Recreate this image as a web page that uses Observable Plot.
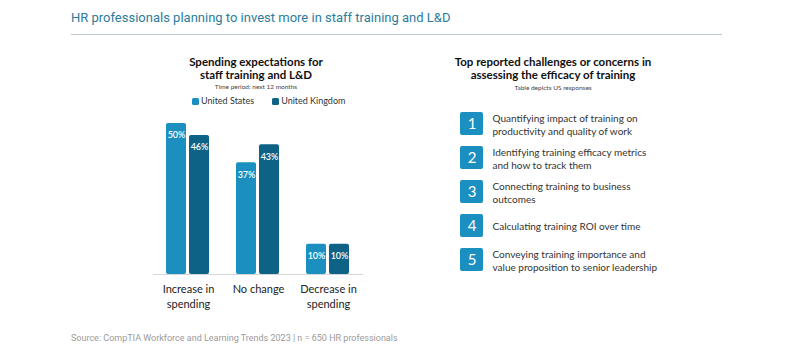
<!DOCTYPE html>
<html>
<head>
<meta charset="utf-8">
<script src="https://cdn.jsdelivr.net/npm/d3@7"></script>
<script src="https://cdn.jsdelivr.net/npm/@observablehq/plot@0.6"></script>
<style>
  html, body { margin: 0; padding: 0; background: #fff; }
  #page { position: relative; width: 800px; height: 357px; overflow: hidden; background: #fff; font-family: Lato, "Open Sans", sans-serif; }
  .abs { position: absolute; }
  #title { left: 71px; top: 10px; font-family: Roboto, sans-serif; font-size: 13px; color: #2b7d9b; white-space: nowrap; }
  #rule { left: 71px; top: 34px; width: 651px; height: 0; border-top: 1.3px solid #b9c8d2; }
  #source { left: 71px; top: 333px; font-family: Roboto, sans-serif; font-size: 9px; color: #9a9a9a; white-space: nowrap; }
  .ptitle { text-align: center; font-weight: bold; font-size: 11.5px; line-height: 13px; color: #111; }
  .psub { text-align: center; font-size: 6.5px; color: #444; }
  #ltitle { left: 156px; top: 55px; width: 200px; }
  #lsub { left: 156px; top: 83px; width: 200px; }
  #legend { left: 192px; top: 95px; font-size: 9px; color: #333; white-space: nowrap; display: flex; gap: 18px; }
  #legend span.sw { display: inline-block; width: 7px; height: 7px; border-radius: 1.5px; margin-right: 2px; vertical-align: -1px; }
  #rtitle { left: 433px; top: 55px; width: 240px; }
  #rsub { left: 433px; top: 84px; width: 240px; }
  #left { left: 140px; top: 110px; }
  #right { left: 455px; top: 100px; }
</style>
</head>
<body>
<div id="page">
  <div id="title" class="abs">HR professionals planning to invest more in staff training and L&amp;D</div>
  <div id="rule" class="abs"></div>
  <div id="ltitle" class="abs ptitle">Spending expectations for<br>staff training and L&amp;D</div>
  <div id="lsub" class="abs psub">Time period: next 12 months</div>
  <div id="legend" class="abs"></div>
  <div id="rtitle" class="abs ptitle">Top reported challenges or concerns in<br>assessing the efficacy of training</div>
  <div id="rsub" class="abs psub">Table depicts US responses</div>
  <div id="left" class="abs"></div>
  <div id="right" class="abs"></div>
  <div id="source" class="abs">Source: CompTIA Workforce and Learning Trends 2023 | n = 650 HR professionals</div>
</div>
<script>
// ---- data ----
const categories = ["Increase in spending", "No change", "Decrease in spending"];
const categoryLabels = ["Increase in\nspending", "No change", "Decrease in\nspending"];
const seriesNames = ["United States", "United Kingdom"];
const usValues = [50, 37, 10];
const ukValues = [46, 43, 10];
const seriesColors = ["#1a8fc0", "#0d6286"];

const challengeRanks = [1, 2, 3, 4, 5];
const challengeLabels = [
  "Quantifying impact of training on\nproductivity and quality of work",
  "Identifying training efficacy metrics\nand how to track them",
  "Connecting training to business\noutcomes",
  "Calculating training ROI over time",
  "Conveying training importance and\nvalue proposition to senior leadership"
];

// ---- legend ----
const legend = document.getElementById("legend");
seriesNames.forEach((s, i) => {
  const d = document.createElement("div");
  d.innerHTML = `<span class="sw" style="background:${seriesColors[i]}"></span>${s}`;
  legend.appendChild(d);
});

// ---- left chart ----
const rows = [];
categories.forEach((c, i) => {
  rows.push({category: c, series: seriesNames[0], value: usValues[i]});
  rows.push({category: c, series: seriesNames[1], value: ukValues[i]});
});
const labelMap = new Map(categories.map((c, i) => [c, categoryLabels[i]]));

const left = Plot.plot({
  width: 240,
  height: 205,
  marginLeft: 13,
  marginRight: 17,
  marginTop: 13,
  marginBottom: 41,
  style: {fontFamily: "Lato, 'Open Sans', sans-serif", background: "transparent", overflow: "visible"},
  fx: {domain: categories, padding: 0, label: null, axis: null},
  x: {domain: seriesNames, paddingInner: 0.128, paddingOuter: 0.553, axis: null},
  y: {domain: [0, 50], axis: null},
  color: {domain: seriesNames, range: seriesColors},
  marks: [
    Plot.barY(rows, {fx: "category", x: "series", y: "value", fill: "series", rx: 2}),
    Plot.ruleY([0], {stroke: "#d6d6d6", strokeWidth: 1.2}),
    Plot.text(rows, {fx: "category", x: "series", y: "value", text: d => d.value + "%", dy: 12, fill: "white", fontSize: 9, fontWeight: 600}),
    Plot.axisFx({anchor: "bottom", tickSize: 0, tickPadding: 8, tickFormat: d => labelMap.get(d), fontSize: 11, lineHeight: 1.35, fill: "#222", label: null})
  ]
});
document.getElementById("left").appendChild(left);

// ---- right list ----
const items = challengeRanks.map((r, i) => ({rank: r, label: challengeLabels[i]}));
const right = Plot.plot({
  width: 270,
  height: 182,
  marginLeft: 5,
  marginRight: 242,
  marginTop: 10,
  marginBottom: 10,
  style: {fontFamily: "Lato, 'Open Sans', sans-serif", background: "transparent", overflow: "visible"},
  x: {axis: null},
  y: {domain: challengeRanks, paddingInner: 0.338, paddingOuter: 0, axis: null},
  marks: [
    Plot.cell(items, {y: "rank", fill: "#1a8fc0", rx: 2}),
    Plot.text(items, {y: "rank", text: d => String(d.rank), fill: "white", fontSize: 15}),
    Plot.text(items, {y: "rank", text: "label", frameAnchor: "left", textAnchor: "start", dx: 32, fill: "#333", fontSize: 10, lineHeight: 1.3})
  ]
});
document.getElementById("right").appendChild(right);
</script>
</body>
</html>
